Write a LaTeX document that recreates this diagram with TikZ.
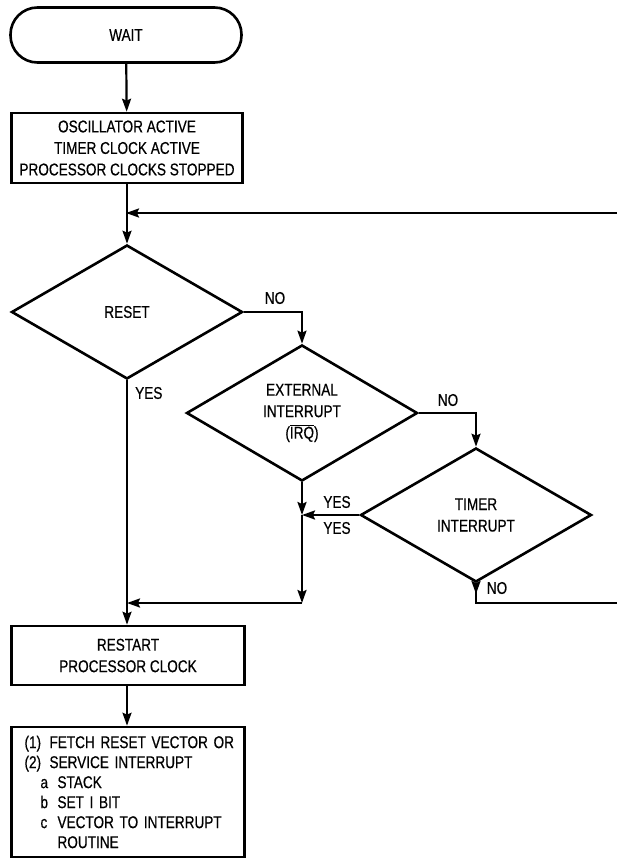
\documentclass[tikz,border=0pt]{standalone}
\usepackage{fontspec}
\setmainfont[FakeStretch=0.80,FakeBold=0.5]{Liberation Sans}
\usetikzlibrary{shapes.geometric,arrows.meta}
\begin{document}
\begin{tikzpicture}[x=1pt,y=-1pt,
  txt/.style={font=\fontsize{17}{21.5}\selectfont},
  terminal/.style={draw, line width=2.6pt, rectangle, rounded corners=27pt, minimum width=231pt, minimum height=55pt, txt},
  procbox/.style={draw, line width=2.6pt, rectangle, minimum width=231pt, align=center, inner sep=0pt, txt},
  decision/.style={draw, diamond, line width=2.6pt, minimum width=231pt, minimum height=134pt, inner sep=0pt, align=center, txt},
  flow/.style={line width=2.2pt, -{Stealth[length=13pt,width=9pt,inset=2pt]}},
  plain/.style={line width=2.2pt},
  lbl/.style={txt, inner sep=0pt}
]
\useasboundingbox (0,0) rectangle (617,859);

\node[terminal] (wait) at (126,35) {WAIT};
\node[procbox, minimum height=70pt] (osc) at (127,148) {OSCILLATOR ACTIVE\\TIMER CLOCK ACTIVE\\PROCESSOR CLOCKS STOPPED};
\node[decision] (reset) at (127,312) {RESET};
\node[decision] (ext) at (302,413) {EXTERNAL\\INTERRUPT\\($\overline{\hbox{IRQ}}$)};
\node[decision] (timer) at (476,515) {TIMER\\INTERRUPT};
\node[procbox, minimum height=59pt, minimum width=233pt] (restart) at (128,655.5) {RESTART\\PROCESSOR CLOCK};
\node[procbox, minimum height=130pt, minimum width=233pt, text width=207pt, align=left, inner xsep=13pt, inner ysep=0pt, font=\fontsize{17}{20}\selectfont] (service) at (128,792) {%
\mbox{\makebox[25pt][l]{(1)}FETCH RESET VECTOR OR}\\
\mbox{\makebox[25pt][l]{(2)}SERVICE INTERRUPT}\\
\mbox{\hspace*{16pt}\makebox[17pt][l]{a}STACK}\\
\mbox{\hspace*{16pt}\makebox[17pt][l]{b}SET I BIT}\\
\mbox{\hspace*{16pt}\makebox[17pt][l]{c}VECTOR TO INTERRUPT}\\
\mbox{\hspace*{33pt}ROUTINE}};

% coordinates
\coordinate (loopR) at (617,213);
\coordinate (loopJ) at (wait.south |- loopR);
\coordinate (j1) at (ext.south |- timer.west);
\coordinate (j2) at (302,603);
\coordinate (j3) at (reset.south |- j2);
\coordinate (n0) at (476,594);
\coordinate (n1) at (476,603);
\coordinate (n2) at (617,603);

% connectors
\draw[flow] (wait) -- (osc);
\draw[flow] (osc.south -| reset.north) -- (reset.north);
\draw[flow] (loopR) -- (loopJ);
\draw[flow] (reset.east) -| (ext.north);
\draw[flow] (ext.east) -| (timer.north);
\draw[flow] (reset.south) -- (restart.north -| reset.south);
\draw[flow] (ext.south) -- (j1);
\draw[flow] (timer.west) -- (j1);
\draw[flow] (j1) -- (j2);
\draw[flow] (j2) -- (j3);
\draw[plain] (timer.south) -- (n1) -- (n2);
\draw[flow] (timer.south) -- (n0);
\draw[flow] (restart.south -| reset.south) -- (service.north -| reset.south);

% labels
\node[lbl] (noA) at (275,298) {NO};
\node[lbl, anchor=west] (yesA) at (135,393) {YES};
\node[lbl] (noB) at (448,400) {NO};
\node[lbl] (yesB) at (337,502) {YES};
\node[lbl] (yesC) at (337,528) {YES};
\node[lbl] (noC) at (497,588) {NO};
\end{tikzpicture}
\end{document}
